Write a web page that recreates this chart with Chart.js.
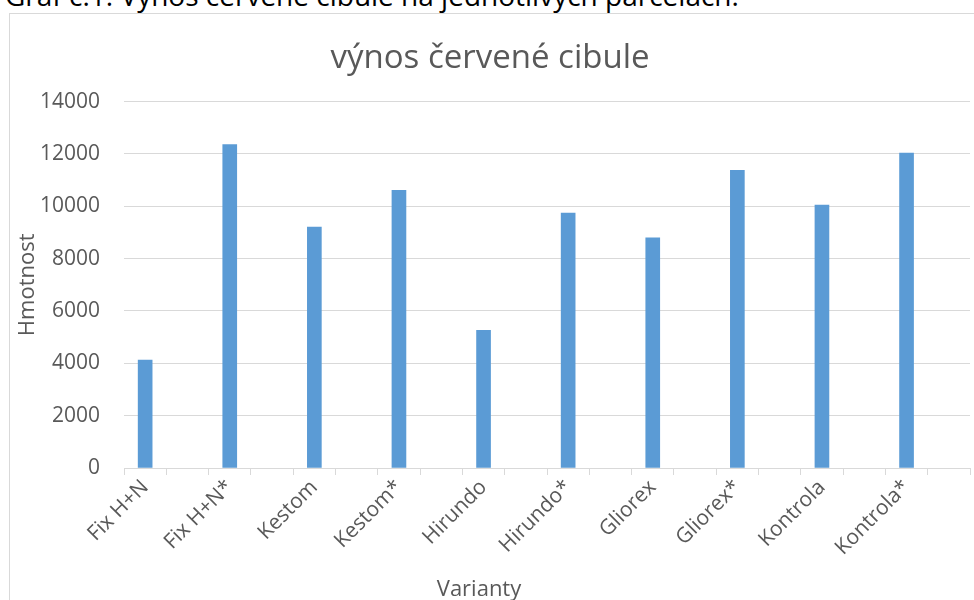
<!DOCTYPE html>
<html>
<head>
<meta charset="utf-8">
<script src="https://cdn.jsdelivr.net/npm/chart.js@4"></script>
<style>
    body { margin: 0; background: #fff; overflow: hidden; }
    .caption {
        position: absolute; left: 5px; top: -19px;
        font-family: 'Open Sans', sans-serif; font-size: 28px; line-height: 28px;
        color: #000; white-space: nowrap;
    }
    .frame {
        position: absolute; left: 9px; top: 13px;
        width: 1000px; height: 620px;
        border: 1px solid #d9d9d9;
    }
    .frame canvas { position: absolute; left: 0; top: 0; }
</style>
</head>
<body>
<div class="caption">Graf č.1: Výnos červené cibule na jednotlivých parcelách.</div>
<div class="frame">
    <canvas id="yieldChart" width="964" height="586" style="width:964px;height:586px"></canvas>
</div>
<script>
// varianty (prazdne kategorie mezi nimi jsou v puvodni tabulce taky)
const variants = ['Fix H+N', '', 'Fix H+N*', '', 'Kestom', '', 'Kestom*', '', 'Hirundo', '',
    'Hirundo*', '', 'Gliorex', '', 'Gliorex*', '', 'Kontrola', '', 'Kontrola*', ''];
const yields = [4120, null, 12360, null, 9205, null, 10605, null, 5265, null,
    9740, null, 8790, null, 11370, null, 10045, null, 12030, null];
const yTicks = [0, 2000, 4000, 6000, 8000, 10000, 12000, 14000];

const textColor = '#595959';
const gridColor = '#d9d9d9';
const font = 'Open Sans';

// popisek osy x neni v Excelu uprostred plochy, kreslime ho sami
const xAxisTitle = {
    id: 'xAxisTitle',
    afterDraw(chart) {
        const ctx = chart.ctx;
        ctx.save();
        ctx.font = `22px "${font}"`;
        ctx.fillStyle = textColor;
        ctx.textAlign = 'center';
        ctx.textBaseline = 'alphabetic';
        ctx.fillText('Varianty', 469, 582);
        ctx.restore();
    }
};

const ctx = document.getElementById('yieldChart').getContext('2d');
new Chart(ctx, {
    type: 'bar',
    data: {
        labels: variants,
        datasets: [{
            label: 'výnos',
            data: yields,
            backgroundColor: '#5b9bd5',
            barThickness: 14
        }]
    },
    options: {
        responsive: false,
        animation: false,
        events: [],
        layout: { padding: { left: 0, right: 4, top: 0, bottom: 0 } },
        plugins: {
            legend: { display: false },
            tooltip: { enabled: false },
            title: {
                display: true,
                text: 'výnos červené cibule',
                color: textColor,
                font: { family: font, size: 33, weight: 'normal', lineHeight: 1.2 },
                padding: { top: 25, bottom: 23 }
            }
        },
        scales: {
            x: {
                grid: {
                    offset: true,
                    drawOnChartArea: false,
                    drawTicks: true,
                    tickLength: 7,
                    color: gridColor
                },
                border: { display: true, color: gridColor, width: 1 },
                ticks: {
                    autoSkip: false,
                    minRotation: 45,
                    maxRotation: 45,
                    padding: 0,
                    color: textColor,
                    font: { family: font, size: 21 }
                },
                afterFit: scale => { scale.height = 132; }
            },
            y: {
                min: 0,
                max: 14000,
                afterBuildTicks: scale => { scale.ticks = yTicks.map(v => ({ value: v })); },
                grid: { color: gridColor, drawTicks: false, lineWidth: 1 },
                border: { display: false },
                ticks: {
                    padding: 24,
                    color: textColor,
                    font: { family: font, size: 21 },
                    callback: value => String(value)
                },
                title: {
                    display: true,
                    text: 'Hmotnost',
                    color: textColor,
                    font: { family: font, size: 22 },
                    padding: { top: 5, bottom: 0 }
                },
                afterFit: scale => { scale.width = 114; }
            }
        }
    },
    plugins: [xAxisTitle]
});
</script>
</body>
</html>
